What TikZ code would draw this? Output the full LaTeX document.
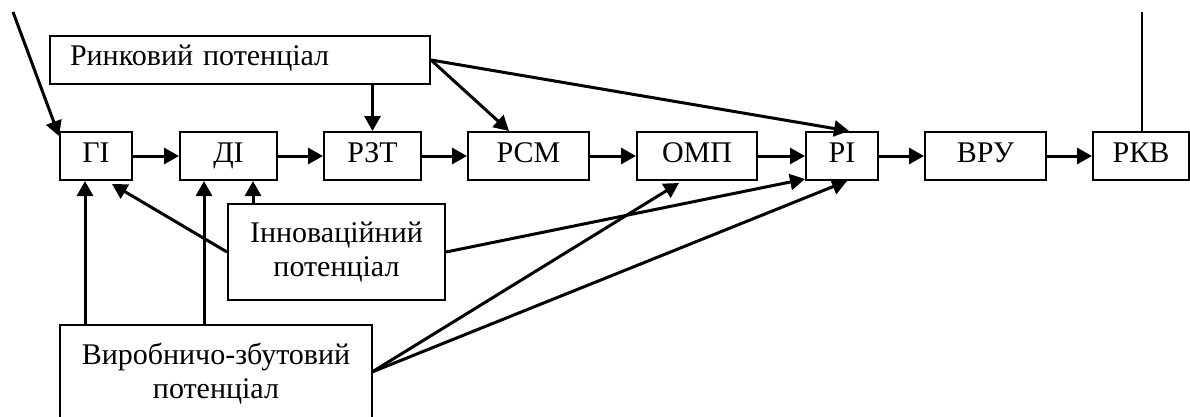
\documentclass[tikz,border=0pt]{standalone}
\usepackage{fontspec}
\setmainfont{Liberation Serif}
\usetikzlibrary{arrows.meta,calc}
\tikzset{
  box/.style={draw,line width=2pt,inner sep=0pt,minimum height=48pt,text height=20pt,text depth=8pt,font=\fontsize{30}{34}\selectfont},
  bigbox/.style={draw,line width=2pt,inner sep=0pt,align=center,font=\fontsize{30}{34}\selectfont},
  arr/.style={line width=3pt,-{Triangle[length=15pt,width=16pt]}},
  thin/.style={line width=2pt}
}
\begin{document}
\begin{tikzpicture}[x=1pt,y=-1pt]
\clip (0,0) rectangle (1190,416);
\node[box,minimum width=72pt] (GI) at (96,156) {ГІ};
\node[box,minimum width=97pt] (DI) at (228.5,156) {ДІ};
\node[box,minimum width=97pt] (RZT) at (372.5,156) {РЗТ};
\node[box,minimum width=121pt] (RSM) at (528.5,156) {РСМ};
\node[box,minimum width=120pt] (OMP) at (697,156) {ОМП};
\node[box,minimum width=72pt] (RI) at (842,156) {РІ};
\node[box,minimum width=121pt] (VRU) at (985.5,156) {ВРУ};
\node[box,minimum width=96pt] (RKV) at (1141,156) {РКВ};
\node[box,text width=340pt,inner xsep=20pt,align=left,minimum height=48pt,text height=20pt,text depth=10pt] (rynk) at (240,60) {Ринковий потенціал};
\node[bigbox,minimum width=217pt,minimum height=96pt] (inn) at (336.5,252) {Інноваційний\\потенціал};
\node[bigbox,minimum width=312pt,minimum height=98pt,anchor=north] (vyr) at (216,324) {Виробничо-збутовий\\потенціал};
% chain
\draw[arr] (GI) -- (DI);
\draw[arr] (DI) -- (RZT);
\draw[arr] (RZT) -- (RSM);
\draw[arr] (RSM) -- (OMP);
\draw[arr] (OMP) -- (RI);
\draw[arr] (RI) -- (VRU);
\draw[arr] (VRU) -- (RKV);
% free ends
\coordinate (tl) at (13,12);
\coordinate (tr) at (1142,12);
\draw[arr] (tl) -- ($(GI.north west)+(0,5)$);
\draw[thin] (RKV.north -| tr) -- (tr);
% market
\draw[arr] (rynk.south -| RZT.north) -- (RZT.north);
\draw[arr] (rynk.east) -- ($(RSM.north west)+(42,0)$);
\draw[arr] (rynk.east) -- ($(RI.north west)+(44,0)$);
% innovation
\coordinate (c3) at (253,0);
\draw[arr] (inn.west) -- ($(GI.south)+(16,3)$);
\draw[arr] (inn.north -| c3) -- (DI.south -| c3);
\draw[arr] (inn.east) -- ($(RI.south west)+(0,-2)$);
% production
\coordinate (c1) at (85,0);
\coordinate (c2) at (204,0);
\coordinate (vp) at (372,372);
\draw[arr] (vyr.north -| c1) -- (GI.south -| c1);
\draw[arr] (vyr.north -| c2) -- (DI.south -| c2);
\draw[arr] (vp) -- ($(OMP.south west)+(43,2)$);
\draw[arr] (vp) -- ($(RI.south west)+(42,0)$);
\end{tikzpicture}
\end{document}
